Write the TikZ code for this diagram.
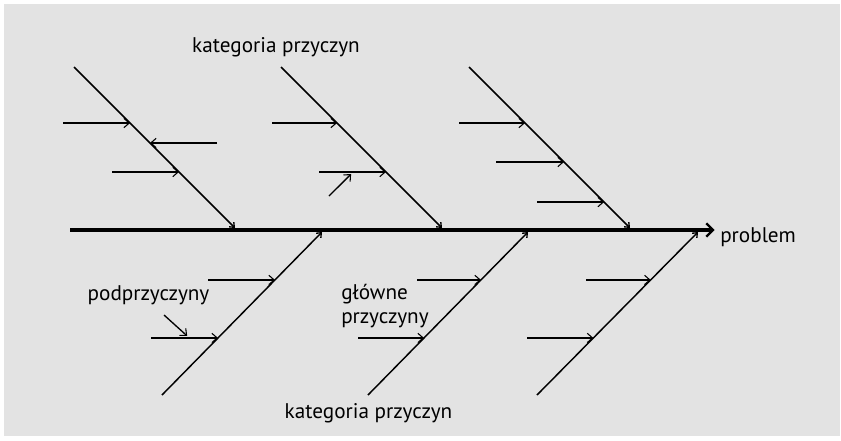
\documentclass[tikz,border=0pt]{standalone}
\usepackage{fontspec}
\setmainfont{PT Sans}
\usetikzlibrary{arrows.meta}
\definecolor{bgfill}{RGB}{227,227,227}
\begin{document}
\begin{tikzpicture}[x=0.75pt,y=-0.75pt,
  spine/.style={line width=3pt,-{Straight Barb[length=5pt,width=10pt,line width=1.8pt]}},
  bone/.style={line width=1.1pt,-{Straight Barb[length=3pt,width=5pt,line width=1pt]}},
  sub/.style={line width=1pt,-{Straight Barb[length=4pt,width=7pt,line width=0.8pt]}},
  lbl/.style={font=\fontsize{15.9}{18}\selectfont,inner sep=0pt}]
\useasboundingbox (0,0) rectangle (841,440);
\fill[white] (0,0) rectangle (841,440);
\fill[bgfill] (4,4) rectangle (840,436);

% labels
\node[lbl] (topcat) at (276,47) {kategoria przyczyn};
\node[lbl] (botcat) at (368.5,413) {kategoria przyczyn};
\node[lbl,anchor=west] (problem) at (720,237.5) {problem};
\node[lbl] (subcause) at (148.5,295) {podprzyczyny};
\node[lbl,anchor=north west,align=left] (maincause) at (341,284) {główne\\przyczyny};

% spine
\coordinate (tail) at (70,230);
\draw[spine,shorten >=4pt] (tail) -- (tail -| problem.west);

% main bones: start and end points
\coordinate (b1s) at (74,67);   \coordinate (b1e) at (235,228);
\coordinate (b2s) at (281,67);  \coordinate (b2e) at (442,228);
\coordinate (b3s) at (469,67);  \coordinate (b3e) at (630,228);
\coordinate (b4s) at (162,395); \coordinate (b4e) at (322,232);
\coordinate (b5s) at (368,395); \coordinate (b5e) at (528,232);
\coordinate (b6s) at (537,395); \coordinate (b6e) at (698,232);

\foreach \i in {1,...,6} {\draw[bone] (b\i s) -- (b\i e);}

% points on the bones where sub-causes meet them
\path (b1s) -- (b1e) coordinate[pos=0.348] (c11) coordinate[pos=0.472] (c12) coordinate[pos=0.652] (c13);
\path (b2s) -- (b2e) coordinate[pos=0.348] (c21) coordinate[pos=0.652] (c22);
\path (b3s) -- (b3e) coordinate[pos=0.348] (c31) coordinate[pos=0.590] (c32) coordinate[pos=0.839] (c33);
\path (b4s) -- (b4e) coordinate[pos=0.350] (c41) coordinate[pos=0.706] (c42);
\path (b5s) -- (b5e) coordinate[pos=0.350] (c51) coordinate[pos=0.706] (c52);
\path (b6s) -- (b6e) coordinate[pos=0.350] (c61) coordinate[pos=0.706] (c62);

% free ends of the sub-cause arrows
\coordinate (s11) at (63,0);  \coordinate (s12) at (217,0); \coordinate (s13) at (112,0);
\coordinate (s21) at (272,0); \coordinate (s22) at (319,0);
\coordinate (s31) at (459,0); \coordinate (s32) at (496,0); \coordinate (s33) at (537,0);
\coordinate (s41) at (151,0); \coordinate (s42) at (208,0);
\coordinate (s51) at (358,0); \coordinate (s52) at (417,0);
\coordinate (s61) at (527,0); \coordinate (s62) at (586,0);

\draw[sub] (s11 |- c11) -- (c11);
\draw[sub] (s12 |- c12) -- (c12);
\draw[sub] (s13 |- c13) -- (c13);
\draw[sub] (s21 |- c21) -- (c21);
\draw[sub] (s22 |- c22) -- (c22);
\draw[sub] (s31 |- c31) -- (c31);
\draw[sub] (s32 |- c32) -- (c32);
\draw[sub] (s33 |- c33) -- (c33);
\draw[sub] (s41 |- c41) -- (c41);
\draw[sub] (s42 |- c42) -- (c42);
\draw[sub] (s51 |- c51) -- (c51);
\draw[sub] (s52 |- c52) -- (c52);
\draw[sub] (s61 |- c61) -- (c61);
\draw[sub] (s62 |- c62) -- (c62);

% second-level causes pointing at sub-cause arrows
\path (s22 |- c22) -- (c22) coordinate[pos=0.48] (d22);
\coordinate (e22) at (329,196);
\draw[sub] (e22) -- ([yshift=-1.5]d22);
\path (s41 |- c41) -- (c41) coordinate[pos=0.54] (d41);
\coordinate (e41) at (164,315);
\draw[sub] (e41) -- ([yshift=1.5]d41);
\end{tikzpicture}
\end{document}
